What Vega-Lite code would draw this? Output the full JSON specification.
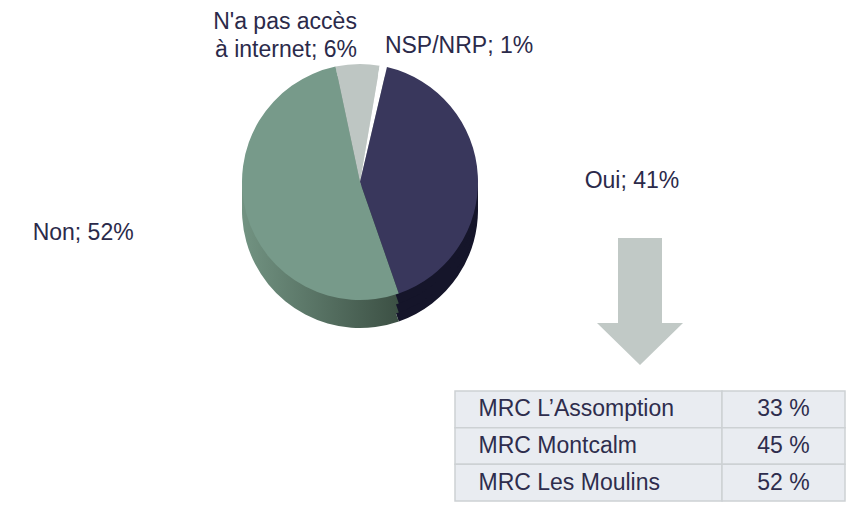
{
  "$schema": "https://vega.github.io/schema/vega-lite/v6.json",
  "padding": 0,
  "background": "white",
  "config": {"view": {"stroke": null}, "font": "Liberation Sans"},
  "spacing": 25,
  "bounds": "full",
  "vconcat": [
    {
      "hconcat": [
        {"width": 242, "height": 10, "data": {"values": []}, "mark": "point"},
        {
          "width": 236,
          "height": 364,
          "data": {
            "values": [
              {"category": "N'a pas accès à internet", "value": 6, "label": "N'a pas accès\nà internet; 6%", "rank": 1},
              {"category": "NSP/NRP", "value": 1, "label": "NSP/NRP; 1%", "rank": 2},
              {"category": "Oui", "value": 41, "label": "Oui; 41%", "rank": 3},
              {"category": "Non", "value": 52, "label": "Non; 52%", "rank": 4}
            ]
          },
          "encoding": {
            "theta": {"field": "value", "type": "quantitative", "stack": true, "scale": {"range": [-0.2094, 6.0738]}},
            "order": {"field": "rank", "type": "quantitative"}
          },
          "layer": [
            {
              "mark": {"type": "arc", "radius": 118, "yOffset": 28},
              "encoding": {
                "fill": {
                  "condition": [
                    {"test": "datum.rank === 4", "value": {"gradient": "linear", "x1": 0, "x2": 1, "y1": 0, "y2": 0, "stops": [{"offset": 0, "color": "#729382"}, {"offset": 1, "color": "#3c5044"}]}},
                    {"test": "datum.rank === 3", "value": "#15152a"}
                  ],
                  "value": "#9aa29f"
                }
              }
            },
            {
              "mark": {"type": "arc", "radius": 118, "yOffset": 19},
              "encoding": {
                "fill": {
                  "condition": [
                    {"test": "datum.rank === 4", "value": {"gradient": "linear", "x1": 0, "x2": 1, "y1": 0, "y2": 0, "stops": [{"offset": 0, "color": "#729382"}, {"offset": 1, "color": "#3c5044"}]}},
                    {"test": "datum.rank === 3", "value": "#15152a"}
                  ],
                  "value": "#9aa29f"
                }
              }
            },
            {
              "mark": {"type": "arc", "radius": 118, "yOffset": 10},
              "encoding": {
                "fill": {
                  "condition": [
                    {"test": "datum.rank === 4", "value": {"gradient": "linear", "x1": 0, "x2": 1, "y1": 0, "y2": 0, "stops": [{"offset": 0, "color": "#729382"}, {"offset": 1, "color": "#3c5044"}]}},
                    {"test": "datum.rank === 3", "value": "#15152a"}
                  ],
                  "value": "#9aa29f"
                }
              }
            },
            {
              "mark": {"type": "arc", "radius": 118},
              "encoding": {
                "color": {
                  "field": "category",
                  "type": "nominal",
                  "legend": null,
                  "scale": {
                    "domain": ["N'a pas accès à internet", "NSP/NRP", "Oui", "Non"],
                    "range": ["#bec6c3", "#ffffff", "#39375c", "#779a8a"]
                  }
                }
              }
            },
            {
              "mark": {
                "type": "text",
                "radius": {"expr": "datum.rank === 1 ? 148 : datum.rank === 2 ? 126 : datum.rank === 3 ? 225 : 235"},
                "align": {"expr": "datum.rank === 2 || datum.rank === 3 ? 'left' : 'right'"},
                "baseline": {"expr": "datum.rank === 3 ? 'top' : 'bottom'"},
                "lineBreak": "\n",
                "lineHeight": 28,
                "fontSize": 23,
                "font": "Liberation Sans",
                "color": "#2b2a4a"
              },
              "encoding": {"text": {"field": "label"}}
            }
          ]
        },
        {
          "vconcat": [
            {"width": 324, "height": 238, "data": {"values": []}, "mark": "point"},
            {
              "width": 324,
              "height": 127,
              "data": {"values": [{"symbol": "arrow"}]},
              "mark": {
                "type": "point",
                "shape": "M-22,-63.5L22,-63.5L22,21.5L43,21.5L0,63.5L-43,21.5L-22,21.5Z",
                "size": 4,
                "filled": true,
                "fill": "#c1c9c6",
                "opacity": 1,
                "strokeWidth": 0
              }
            }
          ],
          "spacing": 0,
          "bounds": "flush"
        }
      ],
      "spacing": 0,
      "bounds": "flush"
    },
    {
      "hconcat": [
        {"width": 455, "height": 10, "data": {"values": []}, "mark": "point"},
        {
          "width": 267,
          "height": 110,
          "data": {"values": [{"region": "MRC L’Assomption", "pct": 33}, {"region": "MRC Montcalm", "pct": 45}, {"region": "MRC Les Moulins", "pct": 52}]},
          "encoding": {
            "y": {"field": "region", "type": "nominal", "sort": null, "axis": null, "scale": {"paddingInner": 0, "paddingOuter": 0}}
          },
          "layer": [
            {"mark": {"type": "rect", "fill": "#e9ecf1", "stroke": "#cdd1d4", "strokeWidth": 1.5}},
            {
              "mark": {"type": "text", "align": "left", "dx": -110, "fontSize": 23, "font": "Liberation Sans", "color": "#2e2d4d"},
              "encoding": {"text": {"field": "region"}}
            }
          ]
        },
        {
          "width": 123,
          "height": 110,
          "data": {"values": [{"region": "MRC L’Assomption", "pct": 33}, {"region": "MRC Montcalm", "pct": 45}, {"region": "MRC Les Moulins", "pct": 52}]},
          "encoding": {
            "y": {"field": "region", "type": "nominal", "sort": null, "axis": null, "scale": {"paddingInner": 0, "paddingOuter": 0}}
          },
          "layer": [
            {"mark": {"type": "rect", "fill": "#e9ecf1", "stroke": "#cdd1d4", "strokeWidth": 1.5}},
            {
              "mark": {"type": "text", "text": {"expr": "datum.pct + ' %'"}, "fontSize": 23, "font": "Liberation Sans", "color": "#2e2d4d"}
            }
          ]
        }
      ],
      "spacing": 0,
      "bounds": "flush"
    }
  ]
}
